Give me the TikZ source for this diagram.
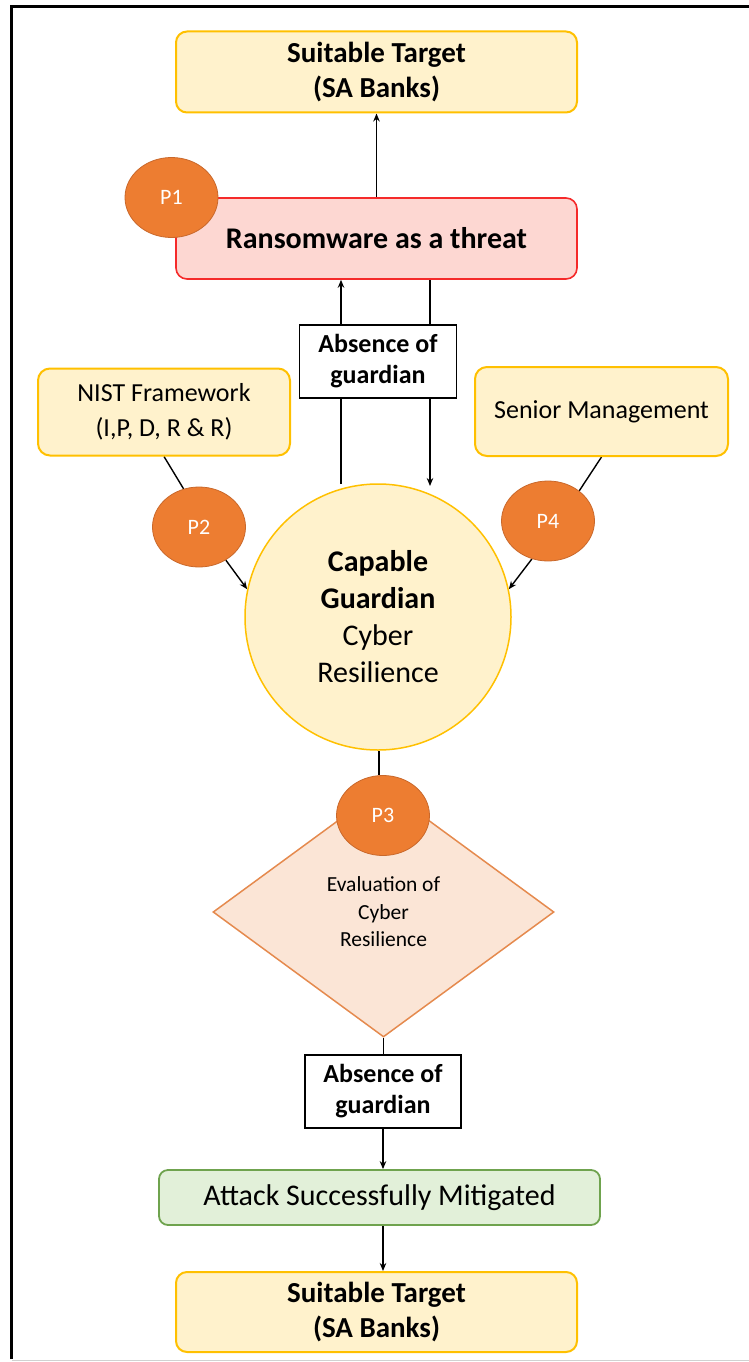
\documentclass[tikz,border=0pt]{standalone}
\usepackage{fontspec}
\setmainfont{Carlito}
\usetikzlibrary{shapes.geometric,arrows.meta,backgrounds}

\definecolor{goldfill}{HTML}{FFF2CC}
\definecolor{golddraw}{HTML}{FFC000}
\definecolor{threatfill}{HTML}{FDD7D2}
\definecolor{threatdraw}{HTML}{F52A2A}
\definecolor{pfill}{HTML}{ED7D31}
\definecolor{pdraw}{HTML}{C9682B}
\definecolor{evalfill}{HTML}{FBE5D6}
\definecolor{evaldraw}{HTML}{E58A4E}
\definecolor{okfill}{HTML}{E2F0D9}
\definecolor{okdraw}{HTML}{6FA34E}

\tikzset{
  target/.style={draw=golddraw, fill=goldfill, line width=2pt, rounded corners=11pt,
    minimum width=401pt, minimum height=81pt, align=center,
    font=\fontsize{29}{35}\selectfont\bfseries},
  threatbox/.style={draw=threatdraw, fill=threatfill, line width=1.6pt, rounded corners=11pt,
    minimum width=401pt, minimum height=81pt, align=center,
    font=\fontsize{30}{36}\selectfont\bfseries},
  factor/.style={draw=golddraw, fill=goldfill, line width=2pt, rounded corners=12pt,
    minimum width=252pt, minimum height=87pt, align=center,
    font=\fontsize{26}{35}\selectfont},
  pnode/.style={ellipse, draw=pdraw, fill=pfill, line width=0.8pt, inner sep=0pt,
    minimum width=93pt, minimum height=80pt, text=white,
    font=\fontsize{22}{26}\selectfont},
  guard/.style={circle, draw=golddraw, fill=goldfill, line width=1.5pt, inner sep=0pt,
    minimum size=266pt, align=center, font=\fontsize{30}{37}\selectfont},
  absence/.style={draw=black, fill=white, line width=1.5pt, minimum width=157pt,
    minimum height=73pt, align=center, font=\fontsize{26}{31}\selectfont\bfseries},
  evalbox/.style={diamond, aspect=1.364, draw=evaldraw, fill=evalfill, line width=1.5pt,
    inner sep=0pt, minimum width=341pt, minimum height=250pt, align=center,
    font=\fontsize{21.5}{27.5}\selectfont},
  okbox/.style={draw=okdraw, fill=okfill, line width=1.8pt, rounded corners=9pt,
    minimum width=441pt, minimum height=55pt, align=center,
    font=\fontsize{30}{36}\selectfont},
  conn/.style={line width=1.4pt},
  arr/.style={conn, -{Stealth[length=8pt,width=6.5pt]}},
}

\begin{document}
\begin{tikzpicture}[x=1pt, y=-1pt]
  \useasboundingbox (0,0) rectangle (749,1362);

  % page frame
  \draw[line width=3pt] (11.5,1359) -- (11.5,7) -- (749,7);
  \draw[black!18, line width=1pt] (11.5,1360.5) -- (749,1360.5);

  % top of the chain
  \node[target] (target1) at (376.5,72) {Suitable Target\\(SA Banks)};
  \node[threatbox] (threat) at (376.5,238.5) {Ransomware as a threat};
  \node[pnode] (p1) at (171.5,197.5) {P1};

  % guardian and its inputs
  \node[guard] (guardian) at (378,617)
    {\textbf{Capable}\\\textbf{Guardian}\\Cyber\\Resilience};
  \node[absence] (absence1) at (378,361.5) {Absence of\\guardian};
  \node[factor] (nist) at (164,412) {NIST Framework\\(I,P, D, R \& R)};
  \node[factor, minimum width=253pt, minimum height=89pt] (senior) at (601.5,411.5)
    {Senior Management};
  \node[pnode] (p2) at (199,527) {P2};
  \node[pnode] (p4) at (548,521) {P4};

  % evaluation
  \node[evalbox] (eval) at (383.5,912) {Evaluation of\\Cyber\\Resilience};
  \node[pnode] (p3) at (383,815.5) {P3};

  % outcome
  \node[absence, minimum width=156pt] (absence2) at (383,1091.5) {Absence of\\guardian};
  \node[okbox] (mitigated) at (379.5,1197.5) {Attack Successfully Mitigated};
  \node[target, minimum height=80pt] (target2) at (376.5,1312) {Suitable Target\\(SA Banks)};

  \coordinate (upfoot) at (341,484);
  \coordinate (downtip) at (430,486);

  \begin{scope}[on background layer]
    \draw[arr] (threat.north) -- (target1.south);
    \draw[arr] (upfoot) -- (upfoot |- threat.south);
    \draw[arr] (downtip |- threat.south) -- (downtip);
    \draw[conn] (nist.south) -- (p2.112);
    \draw[arr] (p2.-51) -- (guardian.168);
    \draw[conn] (senior.south) -- (p4.44);
    \draw[arr] (p4.-113) -- (guardian.12);
    \draw[conn] ([xshift=1pt]guardian.south) -- ([xshift=1pt]guardian.south |- p3.north);
    \draw[conn] (eval.south) -- (eval.south |- absence2.north);
    \draw[arr] (absence2.south) -- (absence2.south |- mitigated.north);
    \draw[arr] (absence2.south |- mitigated.south) -- (absence2.south |- target2.north);
  \end{scope}
\end{tikzpicture}
\end{document}
